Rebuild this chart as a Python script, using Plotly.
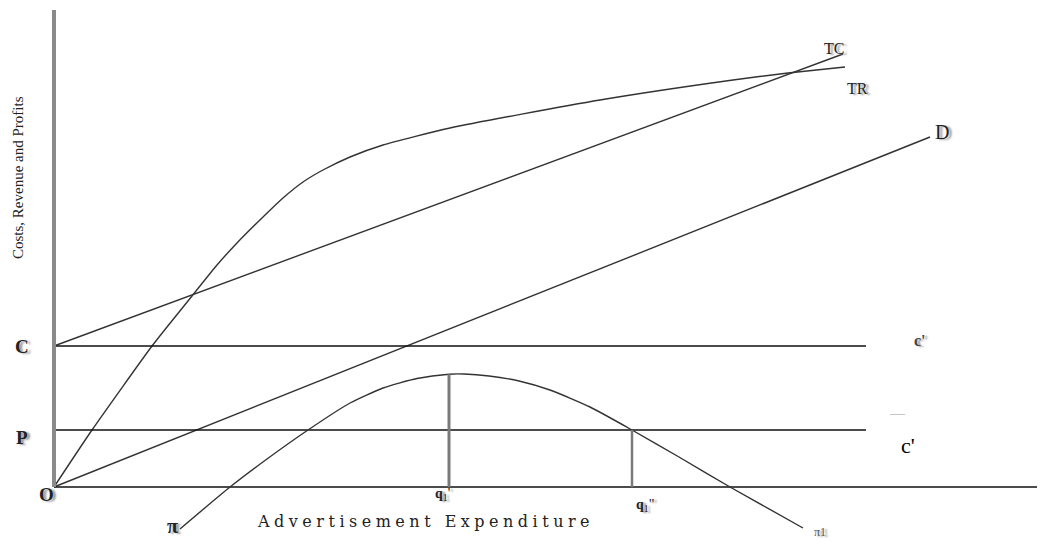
import plotly.graph_objects as go

# ---- data (arbitrary units: advertisement expenditure vs cost/revenue/profit) ----
tr_x = [0, 3.8, 9.8, 11.3, 13.8, 16.3, 18.3, 20.9, 22.9, 24.9, 26.9, 29.6, 32.9, 39.6, 54.6, 67.9, 73.4, 79.1]
tr_y = [0, 5.7, 14.1, 16.0, 19.1, 22.2, 24.4, 27.0, 28.9, 30.5, 31.7, 33.0, 34.2, 35.9, 38.7, 40.7, 41.4, 42.0]

tc_x = [0, 78.9]
tc_y = [14.1, 43.3]

d_x = [0, 87.6]
d_y = [0, 35.0]

c_level = 14.1
p_level = 5.7
hline_end = 81.2
xaxis_end = 100.0
yaxis_top = 47.7

profit_x = [12.6, 17.6, 21.3, 25.4, 29.6, 32.9, 36.3, 39.5, 41.0, 43.5, 46.5, 49.6, 53.6, 57.8, 62.5, 67.6, 74.9]
profit_y = [-4.2, 0.0, 2.8, 5.7, 8.4, 9.9, 10.85, 11.28, 11.3, 11.1, 10.6, 9.7, 8.0, 5.7, 3.0, 0.0, -4.1]

q1_x, q1_y = 39.5, 11.28
q2_x, q2_y = 57.8, 5.7

fig = go.Figure()

curve = dict(color="#333333", width=1.4)
flat = dict(color="#111111", width=1.4)

fig.add_trace(go.Scatter(x=tr_x, y=tr_y, mode="lines", line=dict(**curve, shape="spline", smoothing=0.6)))
fig.add_trace(go.Scatter(x=tc_x, y=tc_y, mode="lines", line=curve))
fig.add_trace(go.Scatter(x=d_x, y=d_y, mode="lines", line=curve))
fig.add_trace(go.Scatter(x=[0, hline_end], y=[c_level, c_level], mode="lines", line=flat))
fig.add_trace(go.Scatter(x=[0, hline_end], y=[p_level, p_level], mode="lines", line=flat))
fig.add_trace(go.Scatter(x=[0, xaxis_end], y=[0, 0], mode="lines", line=flat))
fig.add_trace(go.Scatter(x=profit_x, y=profit_y, mode="lines", line=dict(**curve, shape="spline", smoothing=0.6)))
fig.add_trace(go.Scatter(x=[q1_x, q1_x], y=[0, q1_y], mode="lines", line=dict(color="#7a7a7a", width=3)))
fig.add_trace(go.Scatter(x=[q2_x, q2_x], y=[0, q2_y], mode="lines", line=dict(color="#7a7a7a", width=2.5)))
fig.add_trace(go.Scatter(x=[0, 0], y=[0, yaxis_top], mode="lines", line=dict(color="#8a8a8a", width=4)))

serif = "Liberation Serif"
shadow = "3px 1px 2px #9a9a9a"


def label(x, y, text, size, color="#222222", family=serif, sh=shadow, **kw):
    fig.add_annotation(x=x, y=y, text=text, showarrow=False, xanchor="center", yanchor="middle",
                       font=dict(family=family, size=size, color=color, shadow=sh), **kw)


label(78.0, 43.9, "TC", 16)
label(80.3, 39.9, "TR", 16)
label(88.8, 35.5, "D", 20)
label(-3.2, 14.1, "<b>C</b>", 19)
label(-3.2, 5.0, "<b>P</b>", 19)
label(-0.8, -0.7, "<b>O</b>", 19)
label(11.8, -3.9, "<b>π</b>", 20)
label(76.6, -4.5, "π1", 12, color="#555555")
label(38.8, -0.7, "<b>q</b><sub>1</sub>'", 14)
label(59.1, -1.8, "<b>q</b><sub>1</sub>\"", 14)
label(85.4, 4.2, "c'", 22, color="#000000", sh="none")
label(86.6, 14.7, "<b>c'</b>", 16, color="#444444")
label(84.3, 7.4, "—", 15, color="#999999", sh="none")
label(37.1, -3.4, "<span style='letter-spacing:4.5px'>Advertisement Expenditure</span>", 16,
      color="#222222", family="DejaVu Serif", sh="none")
label(-3.6, 30.9, "Costs, Revenue and Profits", 15, color="#222222", sh="none", textangle=-90)

# the page body adds an 8px margin, so the figure is sized/offset to fit the 1045x546 window
fig.update_layout(
    width=1029, height=530,
    margin=dict(l=0, r=0, t=0, b=0),
    paper_bgcolor="white", plot_bgcolor="white",
    showlegend=False,
    xaxis=dict(range=[-4.6, 98.3], visible=False),
    yaxis=dict(range=[-5.1, 47.9], visible=False),
)

fig.write_html("out.html")
